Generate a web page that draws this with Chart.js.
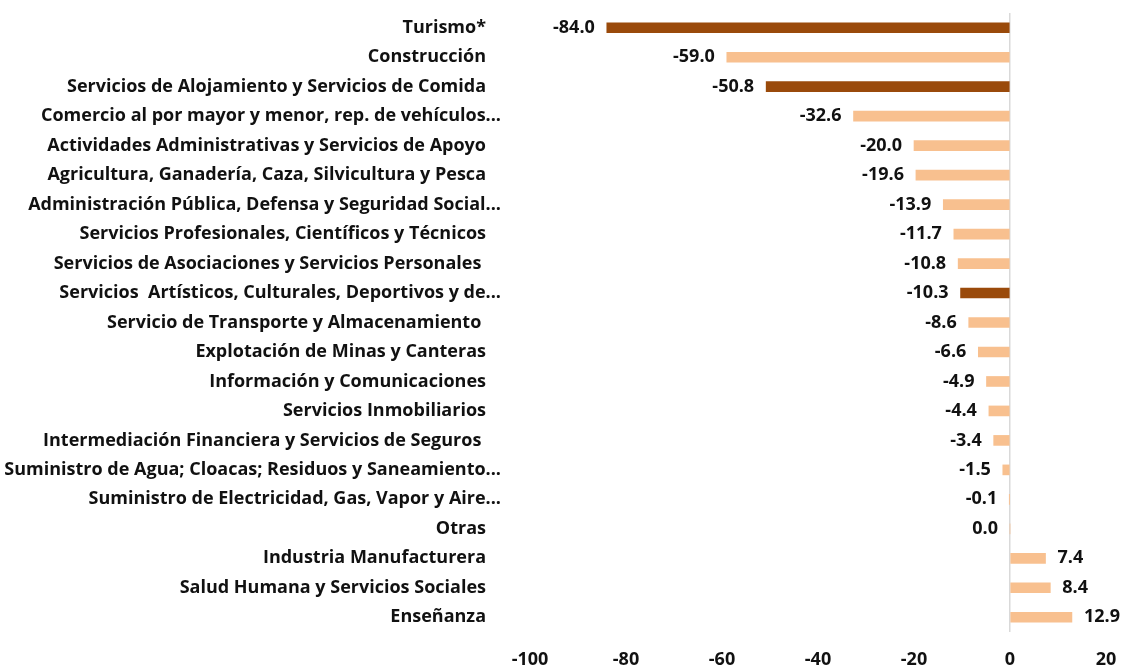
<!DOCTYPE html>
<html>
<head>
<meta charset="utf-8">
<script src="https://cdn.jsdelivr.net/npm/chart.js@4/dist/chart.umd.min.js"></script>
<style>
  html, body { margin: 0; padding: 0; background: #fff; }
  #wrap { width: 1123px; height: 666px; position: relative; }
</style>
</head>
<body>
<div id="wrap"><canvas id="sectorChart"></canvas></div>
<script>
// Sectors (top to bottom) and their variation values
const categories = [
    'Turismo*',
    'Construcción',
    'Servicios de Alojamiento y Servicios de Comida',
    'Comercio al por mayor y menor, rep. de vehículos...',
    'Actividades Administrativas y Servicios de Apoyo',
    'Agricultura, Ganadería, Caza, Silvicultura y Pesca',
    'Administración Pública, Defensa y Seguridad Social...',
    'Servicios Profesionales, Científicos y Técnicos',
    'Servicios de Asociaciones y Servicios Personales ',
    'Servicios  Artísticos, Culturales, Deportivos y de...',
    'Servicio de Transporte y Almacenamiento ',
    'Explotación de Minas y Canteras',
    'Información y Comunicaciones',
    'Servicios Inmobiliarios',
    'Intermediación Financiera y Servicios de Seguros ',
    'Suministro de Agua; Cloacas; Residuos y Saneamiento...',
    'Suministro de Electricidad, Gas, Vapor y Aire...',
    'Otras',
    'Industria Manufacturera',
    'Salud Humana y Servicios Sociales',
    'Enseñanza'
];
const values = [-84.0, -59.0, -50.8, -32.6, -20.0, -19.6, -13.9, -11.7, -10.8, -10.3,
                -8.6, -6.6, -4.9, -4.4, -3.4, -1.5, -0.1, 0.0, 7.4, 8.4, 12.9];
// Highlighted sectors drawn in the dark colour
const highlighted = ['Turismo*', 'Servicios de Alojamiento y Servicios de Comida',
                     'Servicios  Artísticos, Culturales, Deportivos y de...'];
const xTicks = [-100, -80, -60, -40, -20, 0, 20];

const DARK = '#9a4a0b';
const LIGHT = '#f8c08f';
const FONT = "'Open Sans', 'Noto Sans', sans-serif";
const TEXT = '#111';

// Category labels: truncated ones (ending in ...) reach a bit further right, like in Excel
const categoryLabels = {
    id: 'categoryLabels',
    afterDraw(chart) {
        const ctx = chart.ctx;
        const yScale = chart.scales.y;
        const right = chart.chartArea.left - 44;
        ctx.save();
        ctx.font = 'bold 18px ' + FONT;
        ctx.fillStyle = TEXT;
        ctx.textAlign = 'right';
        ctx.textBaseline = 'middle';
        categories.forEach((label, i) => {
            const x = label.endsWith('...') ? right + 15 : right;
            ctx.fillText(label, x, yScale.getPixelForTick(i));
        });
        ctx.restore();
    }
};

// Value labels at the end of each bar
const valueLabels = {
    id: 'valueLabels',
    afterDatasetsDraw(chart) {
        const ctx = chart.ctx;
        const meta = chart.getDatasetMeta(0);
        ctx.save();
        ctx.font = 'bold 18px ' + FONT;
        ctx.fillStyle = TEXT;
        ctx.textBaseline = 'middle';
        meta.data.forEach((bar, i) => {
            const v = values[i];
            if (v > 0) {
                ctx.textAlign = 'left';
                ctx.fillText(v.toFixed(1), bar.x + 12, bar.y);
            } else {
                ctx.textAlign = 'right';
                ctx.fillText(v.toFixed(1), Math.min(bar.x, bar.base) - 12, bar.y);
            }
        });
        ctx.restore();
    }
};

new Chart(document.getElementById('sectorChart').getContext('2d'), {
    type: 'bar',
    data: {
        labels: categories,
        datasets: [{
            data: values,
            backgroundColor: categories.map(c => highlighted.includes(c) ? DARK : LIGHT),
            barThickness: 10,
            borderWidth: 0
        }]
    },
    options: {
        indexAxis: 'y',
        responsive: true,
        maintainAspectRatio: false,
        animation: false,
        layout: { padding: { top: 13, right: 17, bottom: 0, left: 0 } },
        plugins: {
            legend: { display: false },
            tooltip: { enabled: false }
        },
        scales: {
            x: {
                min: -100,
                max: 20,
                afterBuildTicks(scale) {
                    scale.ticks = xTicks.map(v => ({ value: v }));
                },
                afterFit(scale) {
                    scale.height = 34;
                    scale.paddingLeft = 0;
                    scale.paddingRight = 0;
                },
                border: { display: false },
                grid: {
                    drawTicks: false,
                    color: c => (c.tick && c.tick.value === 0) ? '#d9d9d9' : 'rgba(0,0,0,0)',
                    lineWidth: 1.5
                },
                ticks: {
                    padding: 17,
                    maxRotation: 0,
                    color: TEXT,
                    font: { family: FONT, size: 18, weight: 'bold' }
                }
            },
            y: {
                afterFit(scale) {
                    scale.width = 530;
                    scale.paddingTop = 0;
                    scale.paddingBottom = 0;
                },
                border: { display: false },
                grid: { display: false, drawTicks: false },
                ticks: { display: false, autoSkip: false }
            }
        }
    },
    plugins: [valueLabels, categoryLabels]
});
</script>
</body>
</html>
